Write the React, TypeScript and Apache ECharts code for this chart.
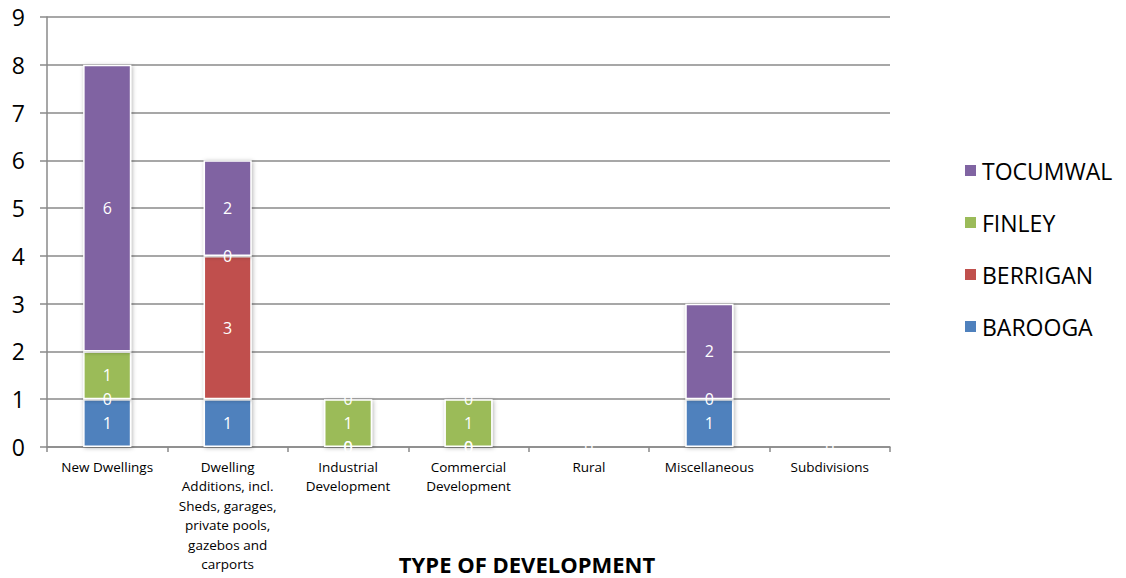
import React, { useEffect, useRef } from "react";
import * as echarts from "echarts";

const categories = [
  "New Dwellings",
  "Dwelling\nAdditions, incl.\nSheds, garages,\nprivate pools,\ngazebos and\ncarports",
  "Industrial\nDevelopment",
  "Commercial\nDevelopment",
  "Rural",
  "Miscellaneous",
  "Subdivisions",
];

const barooga = [1, 1, 0, 0, 0, 1, 0];
const berrigan = [0, 3, 0, 0, null, 0, null];
const finley = [1, 0, 1, 1, null, null, null];
const tocumwal = [6, 2, 0, 0, null, 2, null];

const yTicks = { min: 0, max: 9, interval: 1 };

const FONT = "'Open Sans', 'Liberation Sans', sans-serif";

export default function App() {
  const ref = useRef<HTMLDivElement>(null);
  useEffect(() => {
    if (!ref.current) return;
    const chart = echarts.init(ref.current, null, { renderer: "svg" });
    const mk = (name: string, data: (number | null)[], color: string) => ({
      name,
      type: "bar",
      stack: "total",
      data,
      barWidth: "40%",
      itemStyle: {
        color,
        borderColor: "#ffffff",
        borderWidth: 1.5,
        shadowBlur: 4,
        shadowColor: "rgba(0,0,0,0.3)",
        shadowOffsetX: 1,
        shadowOffsetY: 1,
      },
      label: {
        show: true,
        position: "inside",
        color: "#ffffff",
        fontSize: 16,
        fontFamily: FONT,
        formatter: (p: any) => (p.value == null ? "" : String(p.value)),
      },
    });
    chart.setOption({
      animation: false,
      textStyle: { fontFamily: FONT },
      grid: { left: 47, right: 236, top: 17, bottom: 131, containLabel: false },
      legend: {
        orient: "vertical",
        left: 958,
        top: 154,
        itemWidth: 13,
        itemHeight: 13,
        itemGap: 29,
        icon: "rect",
        data: ["TOCUMWAL", "FINLEY", "BERRIGAN", "BAROOGA"],
        textStyle: { fontSize: 23, color: "#000", fontFamily: FONT },
      },
      xAxis: {
        type: "category",
        data: categories,
        axisLine: { lineStyle: { color: "#8a8a8a", width: 1.5 } },
        axisTick: { show: true, length: 5, lineStyle: { color: "#8a8a8a", width: 1.5 } },
        axisLabel: {
          interval: 0,
          fontSize: 13.5,
          lineHeight: 19.5,
          color: "#000",
          margin: 10,
          fontFamily: FONT,
        },
      },
      yAxis: {
        type: "value",
        min: yTicks.min,
        max: yTicks.max,
        interval: yTicks.interval,
        axisLine: { show: true, lineStyle: { color: "#8a8a8a", width: 1.5 } },
        axisTick: { show: true, length: 7, lineStyle: { color: "#8a8a8a", width: 1.5 } },
        splitLine: { lineStyle: { color: "#8a8a8a", width: 1.5 } },
        axisLabel: { fontSize: 23, color: "#000", margin: 22, fontFamily: FONT },
      },
      graphic: [
        {
          type: "text",
          x: 527,
          y: 564,
          style: {
            text: "TYPE OF DEVELOPMENT",
            fontSize: 22,
            fontWeight: "bold",
            fill: "#000",
            fontFamily: FONT,
            textAlign: "center",
            textVerticalAlign: "middle",
          },
        },
      ],
      series: [
        mk("BAROOGA", barooga, "#4F81BD"),
        mk("BERRIGAN", berrigan, "#C0504D"),
        mk("FINLEY", finley, "#9BBB59"),
        mk("TOCUMWAL", tocumwal, "#8064A2"),
      ],
    });
    return () => chart.dispose();
  }, []);
  return (
    <div
      ref={ref}
      style={{ position: "absolute", left: 0, top: 0, width: 1126, height: 578 }}
    />
  );
}
